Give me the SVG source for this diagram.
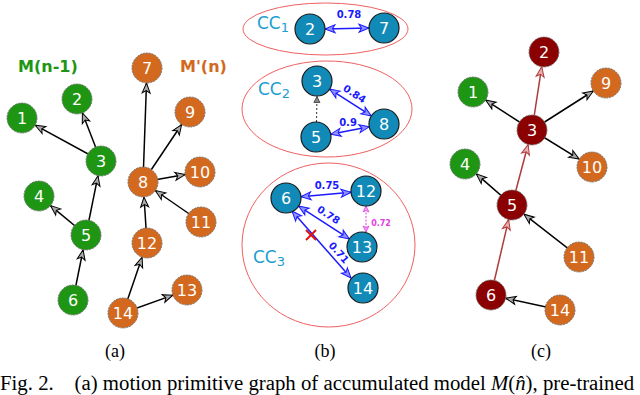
<svg xmlns="http://www.w3.org/2000/svg" width="640" height="395" viewBox="0 0 640 395">
<defs>
<style>
.n text,.t{font-family:"DejaVu Sans",sans-serif;}
.nt{font-size:16px;fill:#fff;text-anchor:middle;dominant-baseline:central;}
.g circle{fill:#1e9614;stroke:#777;stroke-width:1;stroke-dasharray:2 1;}
.o circle{fill:#d2691e;stroke:#777;stroke-width:1;stroke-dasharray:2 1;}
.r circle{fill:#8b0000;stroke:#777;stroke-width:1;stroke-dasharray:2 1;}
.b circle{fill:#118ab8;stroke:#1a1a1a;stroke-width:1.2;}
.e{stroke:#000;stroke-width:1.5;fill:none;marker-end:url(#ak);}
.er{stroke:#b03a3a;stroke-width:1.5;fill:none;marker-end:url(#ar);}
.eb{stroke:#1a1aff;stroke-width:1.5;fill:none;marker-end:url(#ab);marker-start:url(#ab);}
.ed{stroke:#333;stroke-width:1;stroke-dasharray:2 2;fill:none;marker-end:url(#ad);}
.em{stroke:#e040e0;stroke-width:1;stroke-dasharray:2 1.5;fill:none;marker-end:url(#am);marker-start:url(#am);}
.w{font-family:"DejaVu Sans",sans-serif;font-weight:bold;font-size:10px;fill:#1a1aff;text-anchor:middle;}
.cc{font-family:"DejaVu Sans",sans-serif;font-size:17px;fill:#1b9dd1;}
.cap{font-family:"Liberation Serif",serif;font-size:18px;fill:#000;}
.capl{font-family:"Liberation Serif",serif;font-size:20.8px;fill:#000;}
.ell{fill:none;stroke:#f06060;stroke-width:1;}
</style>
<marker id="ak" markerUnits="userSpaceOnUse" markerWidth="12" markerHeight="10" refX="10" refY="4" orient="auto-start-reverse" overflow="visible"><path d="M0,0 L10,4 L0,8 L2.5,4 z" fill="#aaa" stroke="#000" stroke-width="1"/></marker>
<marker id="ar" markerUnits="userSpaceOnUse" markerWidth="12" markerHeight="10" refX="10" refY="4" orient="auto-start-reverse" overflow="visible"><path d="M0,0 L10,4 L0,8 L2.5,4 z" fill="#e8b0b0" stroke="#b03a3a" stroke-width="1"/></marker>
<marker id="ab" markerUnits="userSpaceOnUse" markerWidth="12" markerHeight="10" refX="10" refY="4" orient="auto-start-reverse" overflow="visible"><path d="M0,0 L10,4 L0,8 L2.5,4 z" fill="#9090ff" stroke="#1a1aff" stroke-width="1"/></marker>
<marker id="ad" markerUnits="userSpaceOnUse" markerWidth="8" markerHeight="8" refX="6" refY="3" orient="auto-start-reverse" overflow="visible"><path d="M0,0 L6,3 L0,6 z" fill="#888" stroke="#333" stroke-width="0.8"/></marker>
<marker id="am" markerUnits="userSpaceOnUse" markerWidth="8" markerHeight="8" refX="6" refY="3" orient="auto-start-reverse" overflow="visible"><path d="M0,0 L6,3 L0,6 L1.5,3 z" fill="#f0a0f0" stroke="#e040e0" stroke-width="0.8"/></marker>
</defs>
<rect width="640" height="395" fill="#fff"/>

<!-- panel (a) -->
<text x="18" y="72" font-family="DejaVu Sans, sans-serif" font-weight="bold" font-size="16" fill="#1e9614">M(n-1)</text>
<text x="180" y="72" font-family="DejaVu Sans, sans-serif" font-weight="bold" font-size="16" fill="#d2691e">M'(n)</text>

<!-- panel (b) containers -->
<ellipse class="ell" cx="325.5" cy="29" rx="82.5" ry="26"/>
<ellipse class="ell" cx="327" cy="109" rx="85" ry="48"/>
<ellipse class="ell" cx="328.5" cy="245" rx="86.5" ry="82"/>
<text class="cc" x="257" y="29">CC<tspan font-size="13" dy="3">1</tspan></text>
<text class="cc" x="258" y="95">CC<tspan font-size="13" dy="3">2</tspan></text>
<text class="cc" x="253" y="263">CC<tspan font-size="13" dy="3">3</tspan></text>

<g id="connectors">
<!-- (a) -->
<line class="e" x1="101" y1="161" x2="35.2" y2="125.2"/>
<line class="e" x1="101" y1="161" x2="82.4" y2="113"/>
<line class="e" x1="86" y1="235" x2="98" y2="175.7"/>
<line class="e" x1="86" y1="235" x2="50.5" y2="205.6"/>
<line class="e" x1="73" y1="300" x2="83.1" y2="249.7"/>
<line class="e" x1="143" y1="182" x2="146.5" y2="83"/>
<line class="e" x1="143" y1="182" x2="181.6" y2="124.5"/>
<line class="e" x1="143" y1="182" x2="185.2" y2="174.6"/>
<line class="e" x1="201" y1="222" x2="155.3" y2="190.5"/>
<line class="e" x1="147" y1="243" x2="144" y2="197"/>
<line class="e" x1="123" y1="313" x2="142.1" y2="257.2"/>
<line class="e" x1="123" y1="313" x2="172.9" y2="295.1"/>
<!-- (b) -->
<line class="eb" x1="325" y1="29" x2="369" y2="28"/>
<line class="eb" x1="329.6" y1="89.1" x2="371.4" y2="115.9"/>
<line class="eb" x1="330.7" y1="134.2" x2="369.3" y2="126.8"/>
<line class="ed" x1="316.5" y1="122" x2="317" y2="96.5"/>
<line class="eb" x1="300.9" y1="196.7" x2="351.1" y2="192.3"/>
<line class="eb" x1="298.6" y1="206.1" x2="349.4" y2="238.9"/>
<line class="eb" x1="292" y1="211" x2="351" y2="278"/>
<line class="em" x1="366" y1="232" x2="366" y2="206"/>
<!-- (c) -->
<line class="er" x1="532" y1="130" x2="541.7" y2="66.8"/>
<line class="e" x1="532" y1="130" x2="485.6" y2="100.1"/>
<line class="e" x1="532" y1="130" x2="593.3" y2="91"/>
<line class="e" x1="532" y1="130" x2="579.2" y2="159.1"/>
<line class="er" x1="512" y1="205" x2="528.1" y2="144.5"/>
<line class="e" x1="512" y1="205" x2="476.3" y2="173.9"/>
<line class="e" x1="579" y1="257" x2="523.9" y2="214.2"/>
<line class="er" x1="491" y1="295" x2="508.6" y2="219.6"/>
<line class="e" x1="560" y1="310" x2="505.7" y2="298.2"/>
</g>

<!-- weights -->
<text class="w" x="349" y="18">0.78</text>
<text class="w" transform="translate(350,101) rotate(32.7)" y="-5">0.84</text>
<text class="w" x="348" y="126">0.9</text>
<text class="w" x="327" y="189">0.75</text>
<text class="w" transform="translate(324,222) rotate(32.8)" y="-5">0.78</text>
<text class="w" transform="translate(334,257) rotate(48.6)" y="-3">0.71</text>
<text x="381" y="226" font-family="DejaVu Sans, sans-serif" font-weight="bold" font-size="8" fill="#e040e0" text-anchor="middle">0.72</text>
<g stroke="#e01010" stroke-width="2">
<line x1="306" y1="230" x2="316" y2="240"/>
<line x1="316" y1="230" x2="306" y2="240"/>
</g>

<!-- nodes (a) -->
<g id="a1" class="n g"><circle cx="22" cy="118" r="15"/><text class="nt" x="22" y="118">1</text></g>
<g id="a2" class="n g"><circle cx="77" cy="99" r="15"/><text class="nt" x="77" y="99">2</text></g>
<g id="a3" class="n g"><circle cx="101" cy="161" r="15"/><text class="nt" x="101" y="161">3</text></g>
<g id="a4" class="n g"><circle cx="39" cy="196" r="15"/><text class="nt" x="39" y="196">4</text></g>
<g id="a5" class="n g"><circle cx="86" cy="235" r="15"/><text class="nt" x="86" y="235">5</text></g>
<g id="a6" class="n g"><circle cx="73" cy="300" r="15"/><text class="nt" x="73" y="300">6</text></g>
<g id="a7" class="n o"><circle cx="147" cy="68" r="15"/><text class="nt" x="147" y="68">7</text></g>
<g id="a8" class="n o"><circle cx="143" cy="182" r="15"/><text class="nt" x="143" y="182">8</text></g>
<g id="a9" class="n o"><circle cx="190" cy="112" r="15"/><text class="nt" x="190" y="112">9</text></g>
<g id="a10" class="n o"><circle cx="200" cy="172" r="15"/><text class="nt" x="200" y="172">10</text></g>
<g id="a11" class="n o"><circle cx="201" cy="222" r="15"/><text class="nt" x="201" y="222">11</text></g>
<g id="a12" class="n o"><circle cx="147" cy="243" r="15"/><text class="nt" x="147" y="243">12</text></g>
<g id="a13" class="n o"><circle cx="187" cy="290" r="15"/><text class="nt" x="187" y="290">13</text></g>
<g id="a14" class="n o"><circle cx="123" cy="313" r="15"/><text class="nt" x="123" y="313">14</text></g>

<!-- nodes (b) -->
<g id="b2" class="n b"><circle cx="310" cy="29" r="15"/><text class="nt" x="310" y="29">2</text></g>
<g id="b7" class="n b"><circle cx="384" cy="28" r="15"/><text class="nt" x="384" y="28">7</text></g>
<g id="b3" class="n b"><circle cx="317" cy="81" r="15"/><text class="nt" x="317" y="81">3</text></g>
<g id="b8" class="n b"><circle cx="384" cy="124" r="15"/><text class="nt" x="384" y="124">8</text></g>
<g id="b5" class="n b"><circle cx="316" cy="137" r="15"/><text class="nt" x="316" y="137">5</text></g>
<g id="b6" class="n b"><circle cx="286" cy="198" r="15"/><text class="nt" x="286" y="198">6</text></g>
<g id="b12" class="n b"><circle cx="366" cy="191" r="15"/><text class="nt" x="366" y="191">12</text></g>
<g id="b13" class="n b"><circle cx="362" cy="247" r="15"/><text class="nt" x="362" y="247">13</text></g>
<g id="b14" class="n b"><circle cx="363" cy="288" r="15"/><text class="nt" x="363" y="288">14</text></g>

<!-- nodes (c) -->
<g id="c2" class="n r"><circle cx="544" cy="52" r="15"/><text class="nt" x="544" y="52">2</text></g>
<g id="c1" class="n g"><circle cx="473" cy="92" r="15"/><text class="nt" x="473" y="92">1</text></g>
<g id="c9" class="n o"><circle cx="606" cy="83" r="15"/><text class="nt" x="606" y="83">9</text></g>
<g id="c3" class="n r"><circle cx="532" cy="130" r="15"/><text class="nt" x="532" y="130">3</text></g>
<g id="c4" class="n g"><circle cx="465" cy="164" r="15"/><text class="nt" x="465" y="164">4</text></g>
<g id="c10" class="n o"><circle cx="592" cy="167" r="15"/><text class="nt" x="592" y="167">10</text></g>
<g id="c5" class="n r"><circle cx="512" cy="205" r="15"/><text class="nt" x="512" y="205">5</text></g>
<g id="c11" class="n o"><circle cx="579" cy="257" r="15"/><text class="nt" x="579" y="257">11</text></g>
<g id="c6" class="n r"><circle cx="491" cy="295" r="15"/><text class="nt" x="491" y="295">6</text></g>
<g id="c14" class="n o"><circle cx="560" cy="310" r="15"/><text class="nt" x="560" y="310">14</text></g>

<!-- captions -->
<text class="cap" x="115" y="357" text-anchor="middle">(a)</text>
<text class="cap" x="325" y="357" text-anchor="middle">(b)</text>
<text class="cap" x="541" y="357" text-anchor="middle">(c)</text>
<text class="capl" x="0" y="390" xml:space="preserve">Fig. 2.    (a) motion primitive graph of accumulated model <tspan font-style="italic">M</tspan>(<tspan font-style="italic">n̂</tspan>), pre-trained</text>
</svg>
